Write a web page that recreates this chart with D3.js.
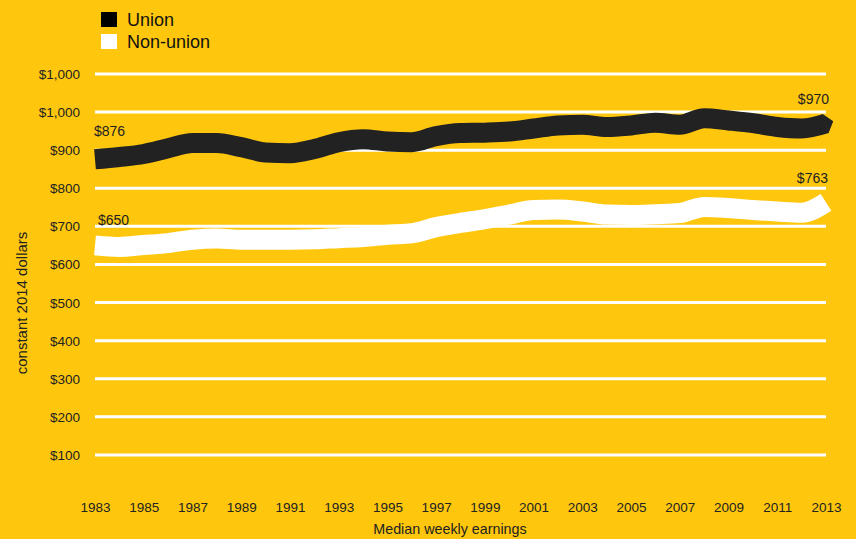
<!DOCTYPE html>
<html>
<head>
<meta charset="utf-8">
<script src="https://cdn.jsdelivr.net/npm/d3@7"></script>
<style>
  html, body { margin: 0; padding: 0; background: #FEC70E; }
  svg { display: block; font-family: "Liberation Sans", Arial, Helvetica, sans-serif; }
</style>
</head>
<body>
<svg id="chart" width="856" height="539"></svg>
<script>
// Median weekly earnings, constant 2014 dollars
const years = d3.range(1983, 2014);
const unionValues = [
  876, 882, 890, 905, 919, 919, 908, 894, 892, 903,
  921, 929, 923, 921, 937, 945, 946, 949, 957, 965,
  967, 961, 965, 972, 967, 984, 978, 971, 961, 957, 970
];
const nonUnionValues = [
  650, 646, 651, 656, 665, 668, 665, 665, 665, 666,
  669, 672, 678, 682, 698, 709, 719, 731, 743, 744,
  739, 731, 730, 732, 735, 751, 748, 743, 739, 736, 763
];
const tickValues = [100, 200, 300, 400, 500, 600, 700, 800, 900, 1000, 1100];
const tickLabels = ["$100", "$200", "$300", "$400", "$500", "$600", "$700", "$800", "$900", "$1,000", "$1,000"];
const yearTicks = d3.range(1983, 2014, 2);
const seriesNames = ["Union", "Non-union"];
const seriesColors = ["#222222", "#FFFFFF"];

const svg = d3.select("#chart");

const x = d3.scaleLinear().domain([1983, 2013]).range([95, 826]);
const y = d3.scaleLinear().domain([0, 1100]).range([493, 74]);

// horizontal gridlines with dollar labels
const grid = svg.append("g");
grid.selectAll("line").data(tickValues).join("line")
  .attr("x1", x(1983)).attr("x2", x(2013))
  .attr("y1", d => y(d)).attr("y2", d => y(d))
  .attr("stroke", "#fff").attr("stroke-width", 3);
grid.selectAll("text").data(tickValues).join("text")
  .attr("x", 80).attr("y", d => y(d) + 5)
  .attr("text-anchor", "end")
  .attr("font-size", 13.5).attr("fill", "#222")
  .text((d, i) => tickLabels[i]);

// year axis
const xAxis = d3.axisBottom(x).tickValues(yearTicks).tickFormat(d3.format("d")).tickSize(0).tickPadding(0);
const xg = svg.append("g").attr("transform", "translate(0,500)").call(xAxis);
xg.select(".domain").remove();
xg.selectAll("text").attr("font-size", 13.5).attr("fill", "#222")
  .attr("font-family", "Liberation Sans, Arial, sans-serif").attr("dy", "0.9em");

// axis titles
svg.append("text")
  .attr("transform", "translate(27,303) rotate(-90)")
  .attr("text-anchor", "middle").attr("font-size", 15).attr("fill", "#222")
  .text("constant 2014 dollars");
svg.append("text")
  .attr("x", 450).attr("y", 534)
  .attr("text-anchor", "middle").attr("font-size", 14.3).attr("fill", "#222")
  .text("Median weekly earnings");

// pointed end for the union band
const defs = svg.append("defs");
defs.append("marker")
  .attr("id", "tip").attr("viewBox", "0 -0.5 0.4 1")
  .attr("refX", 0.02).attr("refY", 0)
  .attr("markerWidth", 0.4).attr("markerHeight", 1)
  .attr("orient", "auto")
  .append("path").attr("d", "M0,-0.5L0.4,0L0,0.5Z").attr("fill", seriesColors[0]);

const line = d3.line()
  .x((d, i) => x(years[i]))
  .y(d => y(d))
  .curve(d3.curveMonotoneX);

svg.append("path").datum(nonUnionValues)
  .attr("d", line).attr("fill", "none")
  .attr("stroke", seriesColors[1]).attr("stroke-width", 20)
  .attr("stroke-linejoin", "round").attr("stroke-linecap", "butt");

svg.append("path").datum(unionValues)
  .attr("d", line).attr("fill", "none")
  .attr("stroke", seriesColors[0]).attr("stroke-width", 20)
  .attr("stroke-linejoin", "round").attr("stroke-linecap", "butt")
  .attr("marker-end", "url(#tip)");

// endpoint value labels
const fmt = d => "$" + d3.format(",")(d);
const endLabels = [
  { v: unionValues[0], yr: 1983, dx: -1, dy: -23, anchor: "start" },
  { v: nonUnionValues[0], yr: 1983, dx: 3, dy: -20, anchor: "start" },
  { v: unionValues[unionValues.length - 1], yr: 2013, dx: 3, dy: -20, anchor: "end" },
  { v: nonUnionValues[nonUnionValues.length - 1], yr: 2013, dx: 2, dy: -19, anchor: "end" }
];
svg.append("g").selectAll("text").data(endLabels).join("text")
  .attr("x", d => x(d.yr) + d.dx).attr("y", d => y(d.v) + d.dy)
  .attr("text-anchor", d => d.anchor)
  .attr("font-size", 14).attr("fill", "#222")
  .text(d => fmt(d.v));

// legend
const legend = svg.append("g");
seriesNames.forEach((name, i) => {
  legend.append("rect")
    .attr("x", 101).attr("y", 12 + i * 22).attr("width", 16).attr("height", 15)
    .attr("fill", i === 0 ? "#000" : "#fff");
  legend.append("text")
    .attr("x", 127).attr("y", 26 + i * 22)
    .attr("font-size", 18).attr("fill", "#111")
    .text(name);
});
</script>
</body>
</html>
